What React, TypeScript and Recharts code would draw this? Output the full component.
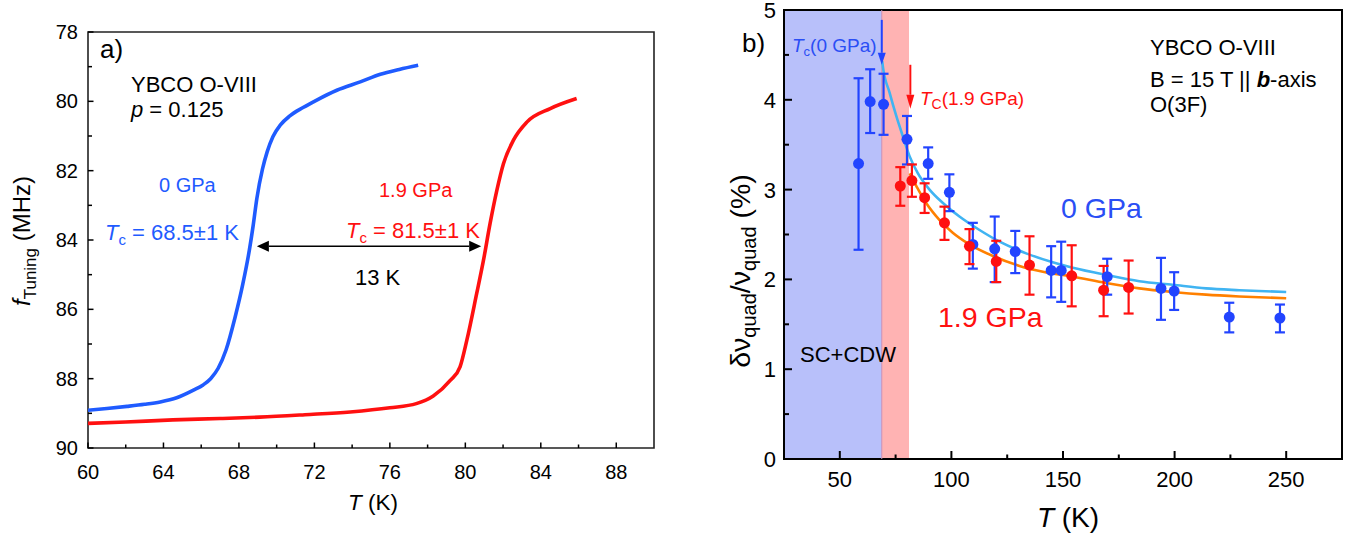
import React from 'react';
import {
  LineChart,
  ComposedChart,
  Line,
  Scatter,
  ErrorBar,
  XAxis,
  YAxis,
  ReferenceArea,
  ReferenceLine,
} from 'recharts';

const FONT = '"Liberation Sans", Arial, Helvetica, sans-serif';

// ---------- Panel a) : f_Tuning vs T ----------
const tuning0GPaT = [60, 61, 62.07, 63, 63.83, 64.7, 65.59, 66.1, 66.5, 66.9, 67.31, 67.8, 68.21, 68.55, 68.75, 68.95, 69.25, 69.5, 69.8, 70.2, 70.7, 71.4, 72.1, 73.19, 74.43, 75.5, 76.5, 77.5];
const tuning0GPaF = [88.91, 88.86, 88.8, 88.74, 88.67, 88.55, 88.33, 88.18, 88.0, 87.7, 87.18, 86.22, 85.26, 84.3, 83.6, 82.8, 81.95, 81.45, 81.02, 80.68, 80.42, 80.18, 79.97, 79.68, 79.44, 79.22, 79.08, 78.96];
const tuning19GPaT = [60, 62, 64.5, 67, 69.1, 71.5, 73.9, 76.0, 77.4, 78.3, 79.2, 79.72, 80.08, 80.6, 80.96, 81.31, 81.67, 82.02, 82.55, 83.26, 84.5, 85.9];
const tuning19GPaF = [89.29, 89.25, 89.19, 89.15, 89.11, 89.04, 88.96, 88.84, 88.72, 88.5, 88.05, 87.66, 86.89, 85.55, 84.59, 83.53, 82.57, 81.8, 81.12, 80.6, 80.21, 79.92];
const aXTicks = [60, 62, 64, 66, 68, 70, 72, 74, 76, 78, 80, 82, 84, 86, 88];
const aYTicks = [78, 79, 80, 81, 82, 83, 84, 85, 86, 87, 88, 89, 90];
const aArrowT = [68.95, 80.84];
const aArrowF = 84.18;

// ---------- Panel b) : delta nu_quad / nu_quad vs T ----------
const b0GPaT = [58.4, 63.6, 69.6, 80.1, 89.6, 99.1, 109.6, 119.4, 128.6, 144.7, 149.2, 169.8, 193.9, 199.8, 224.5, 247.2];
const b0GPaV = [3.29, 3.98, 3.95, 3.56, 3.29, 2.97, 2.39, 2.34, 2.31, 2.1, 2.1, 2.03, 1.9, 1.87, 1.58, 1.57];
const b0GPaErrUp = [0.95, 0.36, 0.34, 0.26, 0.18, 0.2, 0.24, 0.36, 0.23, 0.27, 0.32, 0.2, 0.34, 0.21, 0.16, 0.15];
const b0GPaErrDown = [0.96, 0.35, 0.34, 0.28, 0.17, 0.21, 0.27, 0.37, 0.24, 0.3, 0.35, 0.2, 0.35, 0.21, 0.17, 0.16];

const b19GPaT = [77.1, 82.3, 88.0, 96.9, 108.1, 120.1, 135.0, 153.9, 168.2, 179.4];
const b19GPaV = [3.04, 3.1, 2.91, 2.63, 2.37, 2.2, 2.16, 2.04, 1.88, 1.91];
const b19GPaErrUp = [0.21, 0.18, 0.16, 0.18, 0.19, 0.23, 0.32, 0.34, 0.27, 0.3];
const b19GPaErrDown = [0.22, 0.18, 0.17, 0.19, 0.2, 0.23, 0.33, 0.34, 0.29, 0.29];

const fit0GPaT = [69.0, 69.3, 72.3, 75.3, 78.3, 81.3, 85.0, 90.2, 96.2, 103.6, 112.6, 121.6, 133.5, 145.4, 154.4, 169.3, 184.2, 199.1, 214.1, 229, 250];
const fit0GPaV = [4.43, 4.37, 4.08, 3.82, 3.59, 3.37, 3.18, 3.0, 2.85, 2.7, 2.55, 2.42, 2.29, 2.19, 2.13, 2.05, 1.98, 1.94, 1.9, 1.88, 1.86];
const fit19GPaT = [81.3, 84.3, 88.7, 94.7, 100.6, 108.1, 118.6, 130.5, 141, 154.4, 169.3, 184.2, 199.1, 214.1, 229, 250];
const fit19GPaV = [3.18, 3.04, 2.85, 2.66, 2.52, 2.39, 2.26, 2.15, 2.085, 2.03, 1.96, 1.9, 1.86, 1.83, 1.81, 1.79];

const bXTicks = [50, 75, 100, 125, 150, 175, 200, 225, 250];
const bYTicks = [0, 0.5, 1, 1.5, 2, 2.5, 3, 3.5, 4, 4.5, 5];
const bTc0 = 68.8;
const bTc19 = 81.0;
const bArrow0 = { T: 68.8, from: 4.89, to: 4.39 };
const bArrow19 = { T: 81.6, from: 4.39, to: 3.9 };

// ---------- colours ----------
const BLUE_A = '#1f5bff';
const RED = '#ff1010';
const BLUE_B = '#2244ff';
const BLUE_TXT = '#2a4ef5';
const FIT_BLUE = '#40b4f2';
const FIT_ORANGE = '#ff8000';

const zip = (xs: number[], ys: number[], k: string) => xs.map((x, i) => ({ T: x, [k]: ys[i] }));

const aCurve0 = zip(tuning0GPaT, tuning0GPaF, 'f');
const aCurve19 = zip(tuning19GPaT, tuning19GPaF, 'f');
const bPts0 = b0GPaT.map((T, i) => ({ T, v: b0GPaV[i], err: [b0GPaErrDown[i], b0GPaErrUp[i]] }));
const bPts19 = b19GPaT.map((T, i) => ({ T, v: b19GPaV[i], err: [b19GPaErrDown[i], b19GPaErrUp[i]] }));
const bFit0 = zip(fit0GPaT, fit0GPaV, 'v');
const bFit19 = zip(fit19GPaT, fit19GPaV, 'v');

type TickOpts = { isMajor: (v: number) => boolean; major: number; minor: number; gap: number; fs: number; sw: number; dy?: number };

const xTick = (o: TickOpts) => (p: any) => {
  const v = p.payload.value;
  const major = o.isMajor(v);
  const len = major ? o.major : o.minor;
  return (
    <g key={`xt-${v}`}>
      <line x1={p.x} y1={p.y} x2={p.x} y2={p.y - len} stroke="#000" strokeWidth={o.sw} />
      {major ? (
        <text x={p.x} y={p.y + o.gap} textAnchor="middle" fontSize={o.fs} fontFamily={FONT} fill="#000">
          {v}
        </text>
      ) : null}
    </g>
  );
};

const yTick = (o: TickOpts) => (p: any) => {
  const v = p.payload.value;
  const major = o.isMajor(v);
  const len = major ? o.major : o.minor;
  return (
    <g key={`yt-${v}`}>
      <line x1={p.x} y1={p.y} x2={p.x + len} y2={p.y} stroke="#000" strokeWidth={o.sw} />
      {major ? (
        <text x={p.x - o.gap} y={p.y + (o.dy ?? 7)} textAnchor="end" fontSize={o.fs} fontFamily={FONT} fill="#000">
          {v}
        </text>
      ) : null}
    </g>
  );
};

const arrowShape = (color: string, both: boolean, headLen: number, headHalf: number, sw: number) => (p: any) => {
  const { x1, y1, x2, y2 } = p;
  if ([x1, y1, x2, y2].some((n) => typeof n !== 'number' || isNaN(n))) return <g />;
  const dx = x2 - x1;
  const dy = y2 - y1;
  const L = Math.hypot(dx, dy) || 1;
  const ux = dx / L;
  const uy = dy / L;
  const px = -uy;
  const py = ux;
  const head = (tx: number, ty: number, sx: number, sy: number) => {
    const bx = tx - sx * headLen;
    const by = ty - sy * headLen;
    return `${tx},${ty} ${bx + px * headHalf},${by + py * headHalf} ${bx - px * headHalf},${by - py * headHalf}`;
  };
  const sx = both ? x1 + ux * headLen : x1;
  const sy = both ? y1 + uy * headLen : y1;
  const ex = x2 - ux * headLen;
  const ey = y2 - uy * headLen;
  return (
    <g>
      <line x1={sx} y1={sy} x2={ex} y2={ey} stroke={color} strokeWidth={sw} />
      <polygon points={head(x2, y2, ux, uy)} fill={color} />
      {both ? <polygon points={head(x1, y1, -ux, -uy)} fill={color} /> : null}
    </g>
  );
};

const dot = (color: string) => (p: any) => <circle cx={p.cx} cy={p.cy} r={5.5} fill={color} />;

function PanelA() {
  return (
    <LineChart width={680} height={540} margin={{ top: 32, right: 26, bottom: 62, left: 28 }}>
      <XAxis
        type="number"
        dataKey="T"
        domain={[60, 90]}
        ticks={aXTicks}
        interval={0}
        allowDataOverflow
        height={30}
        tickSize={0}
        tickMargin={0}
        axisLine={false}
        tickLine={false}
        tick={xTick({ isMajor: (v) => (v - 60) % 4 === 0, major: 5.5, minor: 3.5, gap: 31, fs: 20, sw: 1.5 })}
      />
      <YAxis
        type="number"
        domain={[78, 90]}
        reversed
        ticks={aYTicks}
        interval={0}
        allowDataOverflow
        width={60}
        tickSize={0}
        tickMargin={0}
        axisLine={false}
        tickLine={false}
        tick={yTick({ isMajor: (v) => v % 2 === 0, major: 5.5, minor: 4, gap: 10, fs: 20, sw: 1.5, dy: 7 })}
      />
      <ReferenceArea x1={60} x2={90} y1={78} y2={90} fill="none" stroke="#222" strokeWidth={1.6} ifOverflow="visible" />
      <Line data={aCurve0} dataKey="f" type="monotone" stroke={BLUE_A} strokeWidth={3.6} dot={false} isAnimationActive={false} />
      <Line data={aCurve19} dataKey="f" type="monotone" stroke={RED} strokeWidth={3.6} dot={false} isAnimationActive={false} />
      <ReferenceLine
        segment={[
          { x: aArrowT[0], y: aArrowF },
          { x: aArrowT[1], y: aArrowF },
        ]}
        ifOverflow="visible"
        shape={arrowShape('#000', true, 12, 5.5, 1.5)}
      />
    </LineChart>
  );
}

function PanelB() {
  return (
    <ComposedChart width={674} height={540} margin={{ top: 10, right: 12, bottom: 51, left: 44 }}>
      <XAxis
        type="number"
        dataKey="T"
        domain={[25, 275]}
        ticks={bXTicks}
        interval={0}
        allowDataOverflow
        height={30}
        tickSize={0}
        tickMargin={0}
        axisLine={false}
        tickLine={false}
        tick={xTick({ isMajor: (v) => v % 50 === 0, major: 8, minor: 4.5, gap: 28, fs: 22, sw: 2 })}
      />
      <YAxis
        type="number"
        dataKey="v"
        domain={[0, 5]}
        ticks={bYTicks}
        interval={0}
        allowDataOverflow
        width={60}
        tickSize={0}
        tickMargin={0}
        axisLine={false}
        tickLine={false}
        tick={yTick({ isMajor: (v) => Number.isInteger(v), major: 8, minor: 5, gap: 8, fs: 22, sw: 2, dy: 8 })}
      />
      <ReferenceArea x1={25} x2={bTc0} y1={0} y2={5} fill="#b8c0fa" fillOpacity={1} stroke="none" ifOverflow="visible" />
      <ReferenceArea x1={bTc0} x2={bTc19} y1={0} y2={5} fill="#ffb3b3" fillOpacity={1} stroke="none" ifOverflow="visible" />
      <ReferenceLine x={bTc0} stroke="#c58fb8" strokeWidth={1} ifOverflow="visible" />
      <ReferenceArea x1={25} x2={275} y1={0} y2={5} fill="none" stroke="#000" strokeWidth={2} ifOverflow="visible" />
      <Line data={bFit0} dataKey="v" type="monotone" stroke={FIT_BLUE} strokeWidth={2.6} dot={false} isAnimationActive={false} />
      <Line data={bFit19} dataKey="v" type="monotone" stroke={FIT_ORANGE} strokeWidth={2.6} dot={false} isAnimationActive={false} />
      <Scatter data={bPts0} dataKey="v" fill={BLUE_B} shape={dot(BLUE_B)} isAnimationActive={false}>
        <ErrorBar dataKey="err" direction="y" width={5} stroke={BLUE_B} strokeWidth={2.2} isAnimationActive={false} />
      </Scatter>
      <Scatter data={bPts19} dataKey="v" fill={RED} shape={dot(RED)} isAnimationActive={false}>
        <ErrorBar dataKey="err" direction="y" width={5} stroke={RED} strokeWidth={2.2} isAnimationActive={false} />
      </Scatter>
      <ReferenceLine
        segment={[
          { x: bArrow0.T, y: bArrow0.from },
          { x: bArrow0.T, y: bArrow0.to },
        ]}
        ifOverflow="visible"
        shape={arrowShape(BLUE_B, false, 12, 4, 2)}
      />
      <ReferenceLine
        segment={[
          { x: bArrow19.T, y: bArrow19.from },
          { x: bArrow19.T, y: bArrow19.to },
        ]}
        ifOverflow="visible"
        shape={arrowShape(RED, false, 14, 4, 2)}
      />
    </ComposedChart>
  );
}

function Overlay() {
  const t = { fontFamily: FONT, fill: '#000' } as const;
  return (
    <svg width={1354} height={540} style={{ position: 'absolute', left: 0, top: 0, pointerEvents: 'none' }}>
      {/* Panel a */}
      <text x={100} y={58} fontSize={26} {...t}>a)</text>
      <text x={131} y={92} fontSize={22} {...t}>YBCO O-VIII</text>
      <text x={131} y={117} fontSize={22} {...t}>
        <tspan fontStyle="italic">p</tspan> = 0.125
      </text>
      <text x={159} y={192} fontSize={20} fontFamily={FONT} fill={BLUE_A}>0 GPa</text>
      <text x={105} y={240} fontSize={22} fontFamily={FONT} fill={BLUE_A}>
        <tspan fontStyle="italic">T</tspan>
        <tspan fontSize={15} dy={5}>c</tspan>
        <tspan dy={-5}> = 68.5±1 K</tspan>
      </text>
      <text x={379} y={197} fontSize={20} fontFamily={FONT} fill={RED}>1.9 GPa</text>
      <text x={346} y={238} fontSize={22} fontFamily={FONT} fill={RED}>
        <tspan fontStyle="italic">T</tspan>
        <tspan fontSize={15} dy={5}>c</tspan>
        <tspan dy={-5}> = 81.5±1 K</tspan>
      </text>
      <text x={355} y={285} fontSize={22} {...t}>13 K</text>
      <text x={373} y={510} fontSize={22.5} textAnchor="middle" {...t}>
        <tspan fontStyle="italic">T</tspan> (K)
      </text>
      <text transform="translate(30,241) rotate(-90)" fontSize={24} textAnchor="middle" {...t}>
        <tspan fontStyle="italic">f</tspan>
        <tspan fontSize={17} dy={6}>Tuning</tspan>
        <tspan dy={-6}> (MHz)</tspan>
      </text>

      {/* Panel b */}
      <text x={742} y={52} fontSize={26} {...t}>b)</text>
      <text x={792} y={52} fontSize={19} fontFamily={FONT} fill={BLUE_TXT}>
        <tspan fontStyle="italic">T</tspan>
        <tspan fontSize={13} dy={4}>c</tspan>
        <tspan dy={-4}>(0 GPa)</tspan>
      </text>
      <text x={920} y={105} fontSize={19} fontFamily={FONT} fill={RED}>
        <tspan fontStyle="italic">T</tspan>
        <tspan fontSize={14} dy={4}>C</tspan>
        <tspan dy={-4}>(1.9 GPa)</tspan>
      </text>
      <text x={1150} y={55} fontSize={22} {...t}>YBCO O-VIII</text>
      <text x={1150} y={87} fontSize={22} {...t}>
        B = 15 T || <tspan fontStyle="italic" fontWeight="bold">b</tspan>-axis
      </text>
      <text x={1150} y={112} fontSize={22} {...t}>O(3F)</text>
      <text x={1061} y={218} fontSize={28.5} fontFamily={FONT} fill={BLUE_TXT}>0 GPa</text>
      <text x={938} y={327} fontSize={28.5} fontFamily={FONT} fill={RED}>1.9 GPa</text>
      <text x={800} y={362} fontSize={22} {...t}>SC+CDW</text>
      <text x={1068} y={527} fontSize={28} textAnchor="middle" {...t}>
        <tspan fontStyle="italic">T</tspan> (K)
      </text>
      <text transform="translate(750,271) rotate(-90)" fontSize={28.5} textAnchor="middle" {...t}>
        δν
        <tspan fontSize={20} dy={6}>quad</tspan>
        <tspan dy={-6}>/ν</tspan>
        <tspan fontSize={20} dy={6}>quad</tspan>
        <tspan dy={-6}> (%)</tspan>
      </text>
    </svg>
  );
}

export default function App() {
  return (
    <div style={{ position: 'absolute', left: 0, top: 0, width: 1354, height: 540, background: '#fff', overflow: 'hidden' }}>
      <div style={{ position: 'absolute', left: 0, top: 0 }}>
        <PanelA />
      </div>
      <div style={{ position: 'absolute', left: 680, top: 0 }}>
        <PanelB />
      </div>
      <Overlay />
    </div>
  );
}
